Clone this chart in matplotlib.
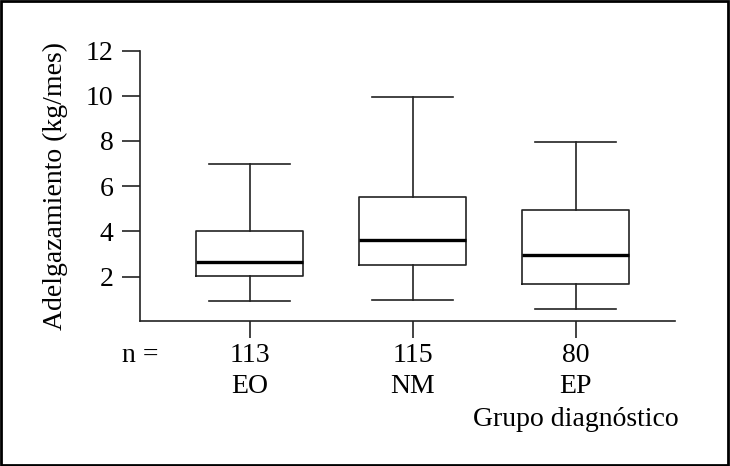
import matplotlib.pyplot as plt
from matplotlib.patches import Rectangle
import matplotlib.transforms as mtransforms

plt.rcParams['font.family'] = ['Liberation Serif', 'DejaVu Serif']

# box statistics
groups = ['EO', 'NM', 'EP']
n_values = [113, 115, 80]
whisker_low = [0.93, 0.96, 0.55]
q1 = [2.02, 2.53, 1.69]
median = [2.65, 3.63, 2.94]
q3 = [4.0, 5.54, 4.95]
whisker_high = [6.97, 9.94, 7.96]

stats = []
for i in range(len(groups)):
    stats.append({'label': groups[i], 'whislo': whisker_low[i], 'q1': q1[i],
                  'med': median[i], 'q3': q3[i], 'whishi': whisker_high[i],
                  'fliers': []})

fig = plt.figure(figsize=(7.3, 4.66), dpi=100)
ax = fig.add_axes([0.1918, 0.3118, 0.7329, 0.5798])

line_col = '#222222'
ax.bxp(stats, positions=[1, 2, 3], widths=0.66, capwidths=0.5, showfliers=False,
       boxprops=dict(color=line_col, linewidth=1.2),
       whiskerprops=dict(color=line_col, linewidth=1.2),
       capprops=dict(color=line_col, linewidth=1.2),
       medianprops=dict(color='black', linewidth=2.4))

ax.set_xlim(0.328, 3.61)
ax.set_ylim(0.05, 12)
ax.set_yticks([2, 4, 6, 8, 10, 12])
ax.set_xticks([1, 2, 3])
ax.set_xticklabels([f'{n}\n{g}' for n, g in zip(n_values, groups)],
                   linespacing=1.3)

for s in ['top', 'right']:
    ax.spines[s].set_visible(False)
for s in ['left', 'bottom']:
    ax.spines[s].set_color(line_col)
    ax.spines[s].set_linewidth(1.2)

ax.tick_params(axis='y', direction='out', length=13, width=1.2, color=line_col,
               labelsize=20, pad=6)
ax.tick_params(axis='x', direction='out', length=12, width=1.2, color=line_col,
               labelsize=20, pad=4)

ax.set_ylabel('Adelgazamiento (kg/mes)', fontsize=20)
ax.yaxis.set_label_coords(-0.135, 0.5)

trans = mtransforms.blended_transform_factory(ax.transData, fig.transFigure)
ax.text(0.33, 1 - 355 / 466, 'n =', transform=trans, fontsize=20,
        ha='center', va='center')
ax.text(3, 1 - 420 / 466, 'Grupo diagnóstico', transform=trans, fontsize=20,
        ha='center', va='center')

# frame around the whole figure
fig.patches.append(Rectangle((0.002, 0.002), 0.995, 0.995, transform=fig.transFigure,
                             fill=False, edgecolor='black', linewidth=2))

plt.savefig('out.png', dpi=100)
